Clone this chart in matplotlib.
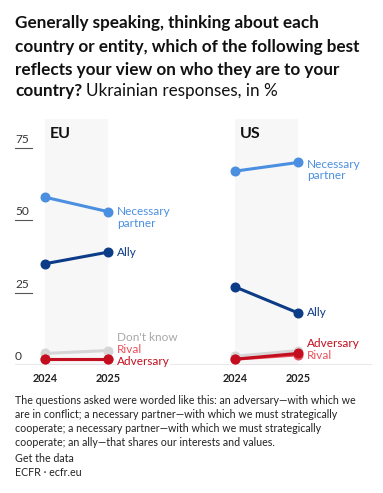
import matplotlib
matplotlib.use("Agg")
import matplotlib.pyplot as plt
import matplotlib.transforms as mtransforms

plt.rcParams['font.family'] = ['Lato', 'DejaVu Sans']

years = [2024, 2025]
panels = ["EU", "US"]
series = ["Don't know", "Rival", "Adversary", "Ally", "Necessary partner"]
eu_values = {
    "Don't know": [4, 5],
    "Rival": [2, 2],
    "Adversary": [2, 2],
    "Ally": [35, 39],
    "Necessary partner": [58, 53],
}
us_values = {
    "Don't know": [3, 5],
    "Rival": [2, 3.5],
    "Adversary": [2, 4],
    "Ally": [27, 18],
    "Necessary partner": [67, 70],
}
yticks = [0, 25, 50, 75]

colors = {
    "Don't know": "#d6d6d6",
    "Rival": "#e8505b",
    "Adversary": "#c20e1f",
    "Ally": "#0c3b88",
    "Necessary partner": "#4a8fe0",
}
label_colors = dict(colors)
label_colors["Don't know"] = "#a8a8a8"
label_text = {
    "Don't know": "Don't know",
    "Rival": "Rival",
    "Adversary": "Adversary",
    "Ally": "Ally",
    "Necessary partner": "Necessary\npartner",
}
# label vertical offsets in pixels (style)
label_off = {
    "EU": {"Don't know": 13.5, "Rival": 10, "Adversary": -2, "Ally": 0, "Necessary partner": -6},
    "US": {"Don't know": None, "Rival": -1, "Adversary": 10, "Ally": 0, "Necessary partner": -7.5},
}

W, H = 383, 493
fig = plt.figure(figsize=(W / 100, H / 100), dpi=100)

def px_axes(x0, x1, ytop, ybot):
    return fig.add_axes([x0 / W, 1 - ybot / H, (x1 - x0) / W, (ybot - ytop) / H])

ytop, ybot = 119, 365
ppu = (365 - 148) / 75.0
ymax = (ybot - ytop) / ppu
pxyear = 63.0

axes = []
specs = [("EU", 15, 190, 45), ("US", 190, 372, 235)]
for name, x0, x1, x2024 in specs:
    ax = px_axes(x0, x1, ytop, ybot)
    left = 2024 - (x2024 - x0) / pxyear
    right = left + (x1 - x0) / pxyear
    ax.set_xlim(left, right)
    ax.set_ylim(0, ymax)
    ax.axis('off')
    axes.append(ax)

for ax, (name, x0, x1, x2024) in zip(axes, specs):
    vals = eu_values if name == "EU" else us_values
    ax.axvspan(years[0], years[1], ymin=0, ymax=1, color="#f7f7f7", zorder=0, lw=0)
    ax.axhline(0, color="#8a8a8a", lw=1.0, zorder=1)
    for s in series:
        ax.plot(years, vals[s], color=colors[s], lw=2.2, marker='o', ms=6.2,
                solid_capstyle='round', zorder=3, clip_on=False)
        off = label_off[name][s]
        if off is None:
            continue
        ax.annotate(label_text[s], xy=(years[1], vals[s][1]),
                    xytext=(9 * 0.72, off * 0.72), textcoords='offset points',
                    ha='left', va='center', fontsize=8.5, color=label_colors[s],
                    linespacing=1.05, zorder=5,
                    bbox=dict(boxstyle='square,pad=0.05', fc='white', ec='none') if (s == "Adversary" and name == "EU") else None)
    t = ax.text(years[0], ymax, name, transform=ax.transData, fontsize=11.5, fontweight='bold',
                ha='left', va='top', color='#111111')
    t.set_transform(ax.transData + mtransforms.ScaledTranslation(5 / 100, -8 / 100, fig.dpi_scale_trans))
    for y in years:
        ax.annotate(str(y), xy=(y, 0), xytext=(0, -6), textcoords='offset points',
                    ha='center', va='top', fontsize=7.8, fontweight='bold', color='#222222')

# y ticks on EU axes
ax = axes[0]
blend = mtransforms.blended_transform_factory(fig.transFigure, ax.transData)
for t in yticks:
    if t != 0:
        ax.plot([15 / W, 32 / W], [t, t], transform=blend, color="#555555", lw=0.8, clip_on=False)
    ax.text(15 / W, t, str(t), transform=blend + mtransforms.ScaledTranslation(0, 3 / 100, fig.dpi_scale_trans),
            ha='left', va='bottom', fontsize=8.6, color='#333333')

# title
title_lines = ["Generally speaking, thinking about each",
               "country or entity, which of the following best",
               "reflects your view on who they are to your"]
ty = [23, 47, 70]
tfs = 12.3
for line, y in zip(title_lines, ty):
    fig.text(15 / W, 1 - y / H, line, fontsize=tfs, fontweight='bold', va='center', ha='left', color='#111111')
t1 = fig.text(15 / W, 1 - 91 / H, "country?", fontsize=tfs, fontweight='bold', va='center', ha='left', color='#111111')
fig.canvas.draw()
bb = t1.get_window_extent()
fig.text((bb.x1 + 4) / W, 1 - 91 / H, "Ukrainian responses, in %", fontsize=tfs, va='center', ha='left', color='#111111')

notes = ["The questions asked were worded like this: an adversary\u2014with which we",
         "are in conflict; a necessary partner\u2014with which we must strategically",
         "cooperate; a necessary partner\u2014with which we must strategically",
         "cooperate; an ally\u2014that shares our interests and values."]
ny = [400, 414, 428, 442]
nfs = 7.65
for line, y in zip(notes, ny):
    fig.text(15 / W, 1 - y / H, line, fontsize=nfs, va='center', ha='left', color='#222222')
fig.text(15 / W, 1 - 458 / H, "Get the data", fontsize=nfs, va='center', ha='left', color='#222222')
fig.text(15 / W, 1 - 472 / H, "ECFR \u00b7 ecfr.eu", fontsize=nfs, va='center', ha='left', color='#222222')

fig.savefig("out.png", dpi=100, facecolor='white')
